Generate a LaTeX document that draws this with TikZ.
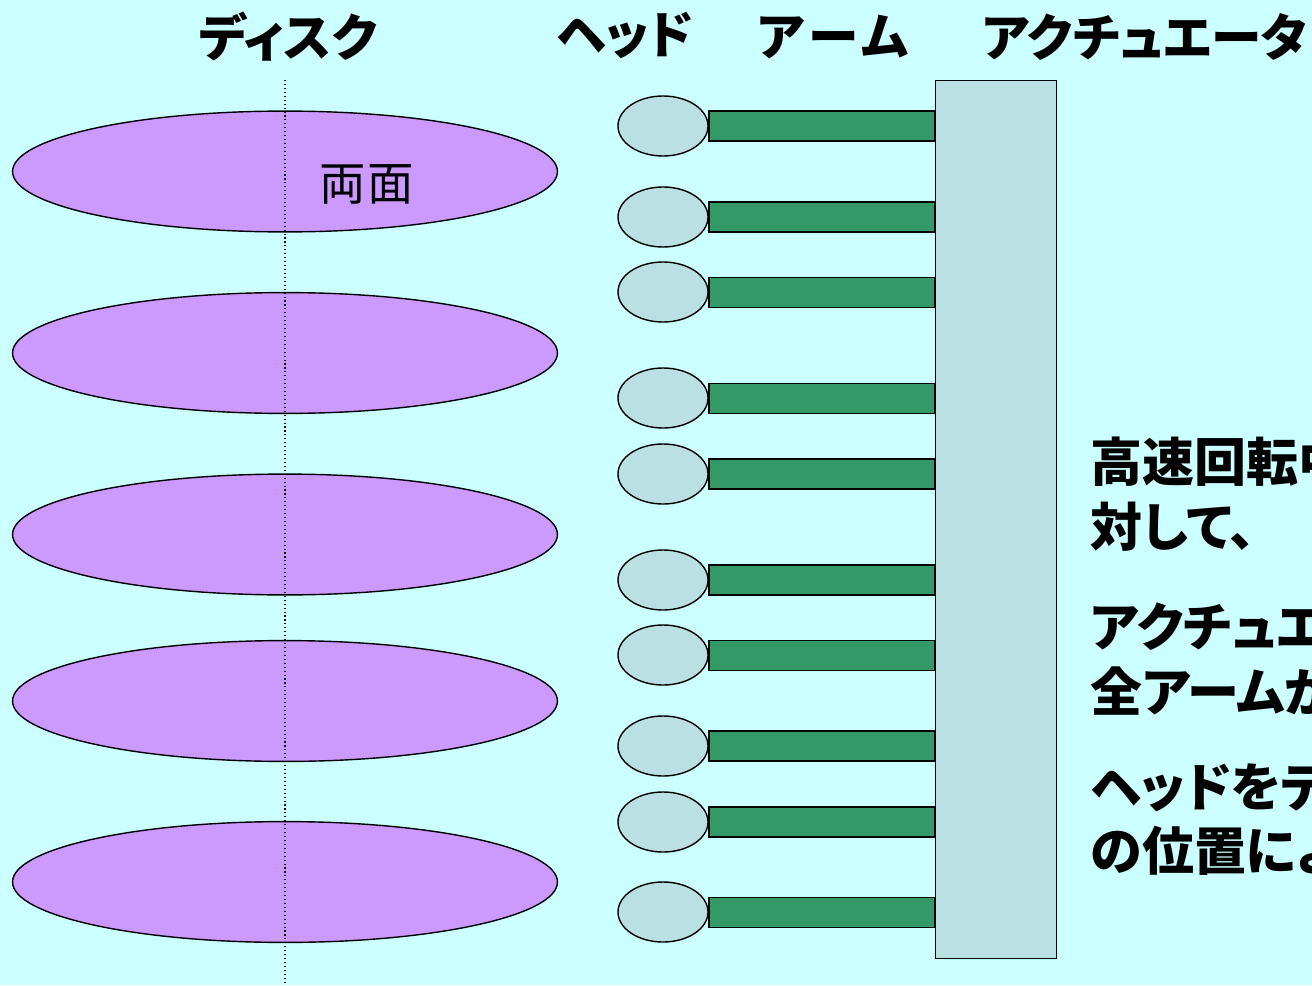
\documentclass[tikz,border=0pt]{standalone}
\usepackage{fontspec}
\setmainfont[RawFeature=+palt]{Noto Sans CJK JP}
\usetikzlibrary{shapes}
\usetikzlibrary{backgrounds}
\definecolor{bgcolor}{HTML}{CCFFFF}
\definecolor{diskcolor}{HTML}{CC99FF}
\definecolor{headcolor}{HTML}{BBE0E3}
\definecolor{armcolor}{HTML}{339966}
\begin{document}
\begin{tikzpicture}[x=0.025cm,y=-0.025cm,line width=1pt,
    disk/.style={draw,ellipse,fill=diskcolor,inner sep=0pt,minimum width=13.62cm,minimum height=3.02cm},
    head/.style={draw,ellipse,fill=headcolor,inner sep=0pt,minimum width=2.25cm,minimum height=1.5cm},
    arm/.style={draw,rectangle,fill=armcolor,inner sep=0pt,minimum width=5.65cm,minimum height=0.75cm},
    title/.style={inner sep=0pt,font=\fontsize{36}{40}\selectfont\bfseries},
    note/.style={inner sep=0pt,anchor=west,align=left,font=\fontsize{37}{46}\selectfont\bfseries}]
                  \useasboundingbox[fill=bgcolor] (0,0) rectangle (1312,985);
                  \node[disk] (disk1) at (285,171.5) {};
                  \node[disk] (disk2) at (285,353) {};
                  \node[disk] (disk3) at (285,534.5) {};
                  \node[disk] (disk4) at (285,701) {};
                  \node[disk] (disk5) at (285,882) {};
                  \coordinate (axistop) at (285,80);
                  \coordinate (axisbottom) at (285,985);
                  \draw[dotted,line width=0.8pt] (axistop) -- (axisbottom);
                  \node[inner sep=0pt,font=\fontsize{33}{38}\selectfont] (both) at (367,184) {両\hspace{0.03em}面};
                  \node[draw,fill=headcolor,inner sep=0pt,minimum width=3.02cm,minimum height=21.93cm] (actuator) at (996,519.5) {};
                  \node[head] (head1) at (663,126) {};
                  \node[head] (head2) at (663,217) {};
                  \node[head] (head3) at (663,292) {};
                  \node[head] (head4) at (663,398) {};
                  \node[head] (head5) at (663,474) {};
                  \node[head] (head6) at (663,580) {};
                  \node[head] (head7) at (663,655) {};
                  \node[head] (head8) at (663,746) {};
                  \node[head] (head9) at (663,822) {};
                  \node[head] (head10) at (663,912) {};
                  \node[arm] (arm1) at (822,126) {};
                  \node[arm] (arm2) at (822,217) {};
                  \node[arm] (arm3) at (822,292.5) {};
                  \node[arm] (arm4) at (822,398.5) {};
                  \node[arm] (arm5) at (822,474) {};
                  \node[arm] (arm6) at (822,580) {};
                  \node[arm] (arm7) at (822,655.5) {};
                  \node[arm] (arm8) at (822,746) {};
                  \node[arm] (arm9) at (822,822) {};
                  \node[arm] (arm10) at (822,912.5) {};
                  \node[title] (disktitle) at (288,37) {ディスク};
                  \node[title] (headtitle) at (625,36) {ヘッド};
                  \node[title] (armtitle) at (833,37) {ア\hspace{0.08em}ー\hspace{0.08em}ム};
                  \node[title] (actuatortitle) at (1145,37) {アクチュエータ};
                  \node[note] (note1) at (1090,494) {高速回転中\\対して、};
                  \node[note] (note2) at (1090,659) {アクチュエ\\全アームが};
                  \node[note] (note3) at (1090,818) {ヘッドをデ\\の位置によ};
              \end{tikzpicture}
\end{document}
